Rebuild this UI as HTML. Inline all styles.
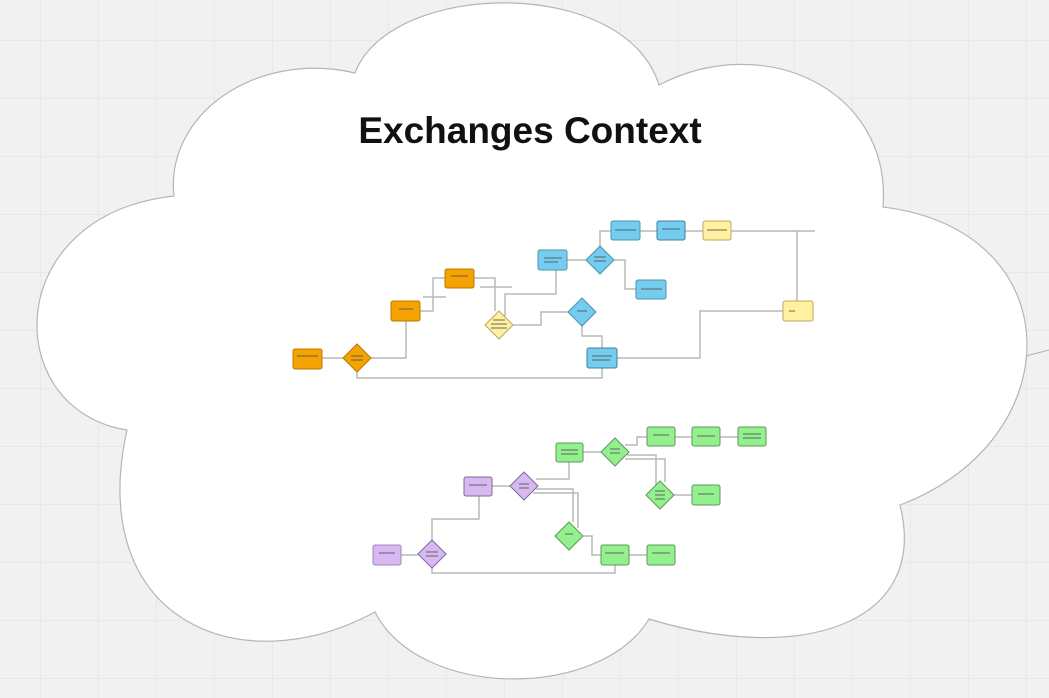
<!DOCTYPE html>
<html><head><meta charset="utf-8"><style>
html,body{margin:0;padding:0;width:1049px;height:698px;overflow:hidden;background:#f1f1f1}
svg{display:block}
</style></head><body>
<svg width="1049" height="698" viewBox="0 0 1049 698" xmlns="http://www.w3.org/2000/svg">
<defs>
<pattern id="g" width="58" height="58" patternUnits="userSpaceOnUse" x="40" y="40">
<path d="M0 0H58M0 0V58" stroke="#e0e0e0" stroke-width="1" fill="none"/>
</pattern>
</defs>
<rect width="1049" height="698" fill="#f1f1f1"/>
<rect width="1049" height="698" fill="url(#g)"/>
<path d="M1026,356 L1049,350" stroke="#b0b0b0" stroke-width="1"/>
<path d="M174,196 C165,115 255,50 355,73 C390,-20 625,-25 659,85 C765,30 892,90 883,207 C1072,230 1072,440 900,505 C930,625 800,665 649,619 C600,700 420,700 375,612 C240,685 85,620 127,430 C0,410 0,215 174,196 Z" fill="#fff" stroke="#b5b5b5" stroke-width="1.2"/>
<text x="530" y="143" text-anchor="middle" font-family="Liberation Sans, sans-serif" font-weight="bold" font-size="37" fill="#111">Exchanges Context</text>

<g fill="none" stroke="#b8b8b8" stroke-width="1.5">
<path d="M322,358H343"/>
<path d="M371,358H406V321"/>
<path d="M357,372V378H602V368"/>
<path d="M420,311H433V278H445"/>
<path d="M423,297H446"/>
<path d="M474,278H495V311"/>
<path d="M480,287H512"/>
<path d="M505,318V294H556V270"/>
<path d="M513,325H541V312H568"/>
<path d="M582,326V336H602V348"/>
<path d="M567,260H586"/>
<path d="M600,246V231H611"/>
<path d="M614,260H625V289H636"/>
<path d="M640,231H657M685,231H703M731,231H815"/>
<path d="M797,231V301"/>
<path d="M617,358H700V311H783"/>

<path d="M401,555H418"/>
<path d="M432,540V519H479V496"/>
<path d="M432,568V573H615V565"/>
<path d="M492,486H510"/>
<path d="M536,479H569V462"/>
<path d="M536,489H573V522"/>
<path d="M533,493H578V528"/>
<path d="M583,536H592V555H601"/>
<path d="M629,555H647"/>
<path d="M583,452H601"/>
<path d="M625,445H637V437H647"/>
<path d="M675,437H692M720,437H738"/>
<path d="M627,455H656V488"/>
<path d="M625,459H665V482"/>
<path d="M674,495H692"/>
</g>

<g stroke-width="1">
<rect x="293" y="349" width="29" height="20" rx="2" fill="#f4a300" stroke="#b87a00"/>
<path d="M357,344L371,358L357,372L343,358Z" fill="#f4a300" stroke="#b87a00"/>
<rect x="391" y="301" width="29" height="20" rx="2" fill="#f4a300" stroke="#b87a00"/>
<rect x="445" y="269" width="29" height="19" rx="2" fill="#f4a300" stroke="#b87a00"/>
<path d="M499,311L513,325L499,339L485,325Z" fill="#fff1a0" stroke="#b9a960"/>
<rect x="538" y="250" width="29" height="20" rx="2" fill="#74cdef" stroke="#4b93ae"/>
<path d="M600,246L614,260L600,274L586,260Z" fill="#74cdef" stroke="#4b93ae"/>
<rect x="611" y="221" width="29" height="19" rx="2" fill="#74cdef" stroke="#4b93ae"/>
<rect x="657" y="221" width="28" height="19" rx="2" fill="#74cdef" stroke="#3f7f98"/>
<rect x="703" y="221" width="28" height="19" rx="2" fill="#fff1a0" stroke="#b9a960"/>
<rect x="636" y="280" width="30" height="19" rx="2" fill="#74cdef" stroke="#4b93ae"/>
<path d="M582,298L596,312L582,326L568,312Z" fill="#74cdef" stroke="#4b93ae"/>
<rect x="587" y="348" width="30" height="20" rx="2" fill="#74cdef" stroke="#3f7f98"/>
<rect x="783" y="301" width="30" height="20" rx="2" fill="#fff1a0" stroke="#b9a960"/>
<rect x="373" y="545" width="28" height="20" rx="2" fill="#d8b8f0" stroke="#a088b8"/>
<path d="M432,540L446,554L432,568L418,554Z" fill="#d8b8f0" stroke="#7e6a96"/>
<rect x="464" y="477" width="28" height="19" rx="2" fill="#d8b8f0" stroke="#7e6a96"/>
<path d="M524,472L538,486L524,500L510,486Z" fill="#d8b8f0" stroke="#7e6a96"/>
<rect x="556" y="443" width="27" height="19" rx="2" fill="#94f08f" stroke="#5a9a56"/>
<path d="M615,438L629,452L615,466L601,452Z" fill="#94f08f" stroke="#5a9a56"/>
<rect x="647" y="427" width="28" height="19" rx="2" fill="#94f08f" stroke="#5a9a56"/>
<rect x="692" y="427" width="28" height="19" rx="2" fill="#94f08f" stroke="#5a9a56"/>
<rect x="738" y="427" width="28" height="19" rx="2" fill="#94f08f" stroke="#5a9a56"/>
<path d="M660,481L674,495L660,509L646,495Z" fill="#94f08f" stroke="#5a9a56"/>
<rect x="692" y="485" width="28" height="20" rx="2" fill="#94f08f" stroke="#5a9a56"/>
<path d="M569,522L583,536L569,550L555,536Z" fill="#94f08f" stroke="#5a9a56"/>
<rect x="601" y="545" width="28" height="20" rx="2" fill="#94f08f" stroke="#5a9a56"/>
<rect x="647" y="545" width="28" height="20" rx="2" fill="#94f08f" stroke="#5a9a56"/>
</g>

<g stroke="#555" stroke-width="1.2" opacity="0.7">
<path d="M297,356H318M399,309H413M451,276H468M544,258H562M544,262H558M615,230H636M662,229H680M707,230H727M641,289H662M592,356H612M592,360H610M789,311H795M351,356H363M351,360H363M493,320H505M491,324H507M491,328H507M594,257H606M594,261H606M577,311H587"/>
<path d="M379,553H395M469,485H487M519,484H529M519,488H529M561,450H578M561,454H578M610,449H620M610,453H620M653,435H669M697,436H715M743,434H761M743,438H761M655,491H665M655,495H665M655,499H665M698,494H714M565,534H573M605,553H624M652,553H670M426,552H438M426,556H438"/>
</g>
</svg>
</body></html>
